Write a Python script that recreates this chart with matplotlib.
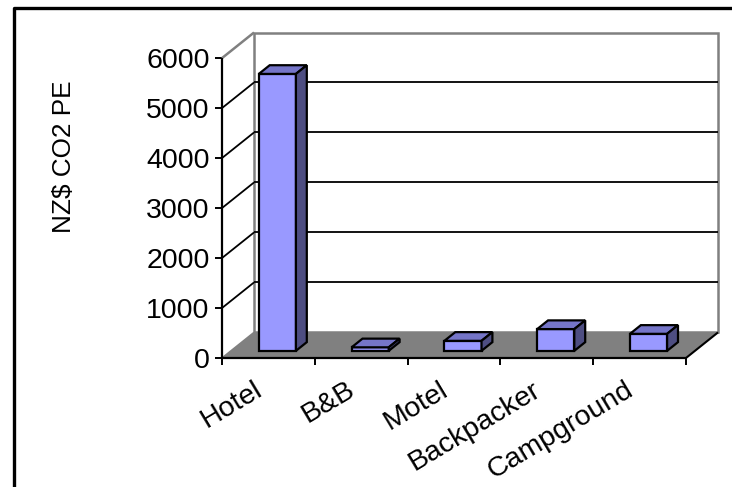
import matplotlib
matplotlib.use('Agg')
import matplotlib.pyplot as plt
from matplotlib.patches import Polygon
from matplotlib.lines import Line2D

plt.rcParams['font.family'] = ['Liberation Sans', 'DejaVu Sans']

# Data
categories = ['Hotel', 'B&B', 'Motel', 'Backpacker', 'Campground']
values = [5540, 70, 200, 435, 340]
y_ticks = [0, 1000, 2000, 3000, 4000, 5000, 6000]
y_label = 'NZ$ CO2 PE'

# oblique 3D look: shift of the back plane in (category, value) units
DX, DY = 0.345, 512
Z0, Z1 = 0.28, 0.62          # depth span of the bars
BW = 0.40                    # bar width (category units)
ymax = y_ticks[-1]
n = len(categories)
FS = 20.5

def proj(x, y, z):
    return (x + z * DX, y + z * DY)

W, H = 732, 487
fig = plt.figure(figsize=(W / 100, H / 100), dpi=100)
ax = fig.add_axes([222 / W, (H - 358) / H, 496 / W, 325.5 / H])
ax.set_xlim(0, n + DX)
ax.set_ylim(0, ymax + DY)
for s in ax.spines.values():
    s.set_visible(False)

def poly(pts, fc, ec, lw=1.0, z=1):
    ax.add_patch(Polygon([proj(*p) for p in pts], closed=True, facecolor=fc,
                         edgecolor=ec, linewidth=lw, zorder=z, clip_on=False))

def line(p1, p2, c, lw=1.2, z=2):
    a, b = proj(*p1), proj(*p2)
    ax.add_line(Line2D([a[0], b[0]], [a[1], b[1]], color=c, lw=lw, zorder=z,
                       clip_on=False, solid_capstyle='butt'))

# walls and floor
poly([(0, 0, 0), (0, ymax, 0), (0, ymax, 1), (0, 0, 1)], 'white', 'none')
poly([(0, 0, 1), (n, 0, 1), (n, ymax, 1), (0, ymax, 1)], 'white', '#808080', lw=1.8)
poly([(0, 0, 0), (n, 0, 0), (n, 0, 1), (0, 0, 1)], '#808080', 'none')
line((0, ymax, 0), (0, ymax, 1), '#808080', lw=1.8)
line((0, 0, 0), (0, 0, 1), '#808080', lw=1.2)
line((n, 0, 0), (n, 0, 1), 'black', lw=1.5)

# gridlines on left and back walls
for v in y_ticks[1:-1]:
    line((0, v, 0), (0, v, 1), 'black', lw=1.3)
    line((0, v, 1), (n, v, 1), 'black', lw=1.3)

# front axes
line((0, 0, 0), (0, ymax, 0), 'black', lw=1.6, z=3)
line((0, 0, 0), (n, 0, 0), 'black', lw=1.6, z=3)

# bars
for i, v in enumerate(values):
    x0, x1 = i + 0.5 - BW / 2, i + 0.5 + BW / 2
    poly([(x0, 0, Z0), (x1, 0, Z0), (x1, v, Z0), (x0, v, Z0)], '#9999FF', 'black', 1.6, 4)
    poly([(x0, v, Z0), (x1, v, Z0), (x1, v, Z1), (x0, v, Z1)], '#7575C8', 'black', 1.6, 4)
    poly([(x1, 0, Z0), (x1, 0, Z1), (x1, v, Z1), (x1, v, Z0)], '#4E4E82', 'black', 1.6, 4)

# ticks and labels
ax.set_yticks(y_ticks)
ax.set_yticklabels([str(t) for t in y_ticks])
ax.set_xticks(range(n + 1))
ax.set_xticklabels([])
ax.tick_params(axis='both', direction='out', length=5, width=1.4, colors='black',
               labelsize=FS)
ax.tick_params(axis='y', pad=4)
ax.tick_params(axis='x', pad=0)

for i, c in enumerate(categories):
    ax.annotate(c, xy=(i + 0.5, 0), xycoords='data', xytext=(-8, -30),
                textcoords='offset pixels', rotation=31, ha='right', va='center',
                rotation_mode='anchor', fontsize=FS, annotation_clip=False)

fig.text(64 / W, 1 - 157 / H, y_label, rotation=90, ha='center', va='center',
         fontsize=18.8)

# outer frame (only left and top edges fall inside the picture)
fig.add_artist(Line2D([13.5 / W, 13.5 / W, 1.0], [0.0, 1 - 8 / H, 1 - 8 / H],
                      transform=fig.transFigure, color='black', lw=2.4))

fig.savefig('out.png', dpi=100)
